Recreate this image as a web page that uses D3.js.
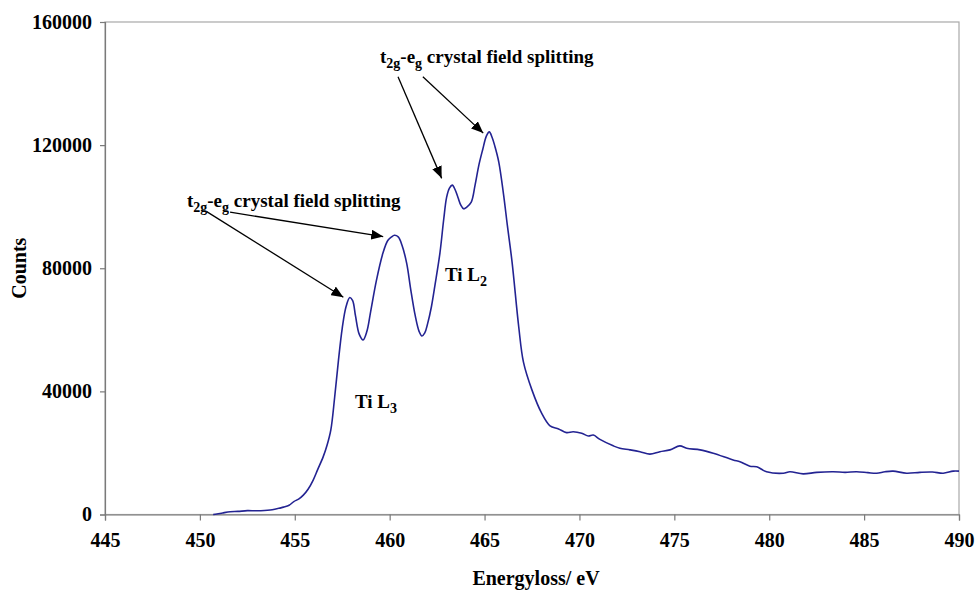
<!DOCTYPE html>
<html>
<head>
<meta charset="utf-8">
<script src="https://cdn.jsdelivr.net/npm/d3@7"></script>
<style>
  html, body { margin: 0; padding: 0; background: #fff; }
  svg { display: block; }
  text { font-family: "Liberation Serif", "Times New Roman", serif; font-weight: bold; fill: #000; }
</style>
</head>
<body>
<svg id="chart" width="976" height="590"></svg>
<script>
// Ti L2,3 edge EELS spectrum
const energy = [450.7, 450.9, 451.2, 451.6, 452.0, 452.5, 453.0, 453.7, 454.0, 454.4,
  454.7, 454.95, 455.2, 455.45, 455.7, 455.97, 456.2, 456.5, 456.7, 456.9,
  457.1, 457.3, 457.5, 457.7, 457.9, 458.05, 458.2, 458.4, 458.6, 458.8,
  459.0, 459.3, 459.65, 459.9, 460.1, 460.25, 460.45, 460.65, 460.9, 461.1, 461.35,
  461.55, 461.7, 461.85, 462.0, 462.2, 462.4, 462.65, 462.85, 463.0, 463.15,
  463.3, 463.45, 463.6, 463.75, 463.9, 464.05, 464.3, 464.5, 464.7, 464.9,
  465.1, 465.25, 465.4, 465.55, 465.75, 466.0, 466.2, 466.45, 466.8, 467.05,
  467.5, 468.0, 468.45, 468.9, 469.32, 469.67, 470.12, 470.47, 470.73, 471.08,
  471.78, 472.13, 472.66, 473.19, 473.71, 474.24, 474.77, 475.29, 475.65, 476.36,
  477.05, 478.1, 478.46, 478.98, 479.34, 479.86, 480.74, 481.09, 481.79, 482.5,
  483.37, 484.0, 484.6, 485.2, 485.66, 486.1, 486.53, 487.24, 487.94, 488.6,
  489.17, 489.69, 490.0];
const counts = [0, 150, 500, 900, 1000, 1250, 1200, 1450, 1800, 2400,
  3000, 4200, 5000, 6300, 8200, 11200, 14500, 18800, 22500, 27500,
  38000, 50000, 60500, 67500, 70500, 69500, 64500, 58500, 56700, 59500,
  66000, 76000, 85000, 89000, 90200, 90700, 90200, 87500, 81500, 73500, 64500,
  59500, 58000, 59000, 62000, 67500, 75000, 85000, 96000, 103000, 106000,
  107000, 105500, 103000, 100500, 99300, 99800, 101500, 107000, 113500, 118500,
  123000, 124300, 122500, 119500, 114500, 104000, 94000, 82000, 61000, 49500,
  40400, 33000, 28800, 27800, 26600, 26900, 26400, 25500, 25800, 24400,
  22300, 21500, 21000, 20400, 19600, 20400, 21000, 22300, 21500, 21000,
  19900, 17700, 17150, 15700, 15500, 13900, 13400, 13900, 13200, 13700,
  13900, 13700, 13900, 13600, 13400, 13900, 14100, 13400, 13700, 13800,
  13400, 14100, 14100];

const xTicks = [445, 450, 455, 460, 465, 470, 475, 480, 485, 490];
const yTicks = [0, 40000, 80000, 120000, 160000];

// annotation arrows: [tailEnergy, tailCounts, tipEnergy, tipCounts]
const arrowsL3 = [[450.36, 98400, 457.56, 70600], [451.59, 98200, 459.66, 90300]];
const arrowsL2 = [[460.44, 142200, 462.74, 109200], [461.75, 142200, 464.93, 123900]];
const splitLabels = [[449.32, 100000], [459.49, 146700]];
const edgeLabels = [{ e: 458.17, c: 34600, sub: "3" }, { e: 462.91, c: 75900, sub: "2" }];

const svg = d3.select("#chart");
const plotL = 105, plotR = 959, plotT = 22, plotB = 514.5;

const x = d3.scaleLinear().domain([445, 490]).range([plotL, plotR]);
const y = d3.scaleLinear().domain([0, 160000]).range([plotB, plotT]);

// plot area frame
svg.append("rect")
  .attr("x", plotL).attr("y", plotT)
  .attr("width", plotR - plotL).attr("height", plotB - plotT)
  .attr("fill", "none").attr("stroke", "#a8a8a8").attr("stroke-width", 1.2);

// axes
const gx = svg.append("g").attr("transform", `translate(0,${plotB})`)
  .call(d3.axisBottom(x).tickValues(xTicks).tickSize(6).tickPadding(12).tickFormat(d3.format("d")));
const gy = svg.append("g").attr("transform", `translate(${plotL},0)`)
  .call(d3.axisLeft(y).tickValues(yTicks).tickSize(5).tickPadding(8).tickFormat(d3.format("d")));
[gx, gy].forEach(g => {
  g.select(".domain").attr("stroke", "#7a7a7a").attr("stroke-width", 1.2);
  g.selectAll(".tick line").attr("stroke", "#7a7a7a").attr("stroke-width", 1.2);
  g.selectAll(".tick text")
    .style("font-family", '"Liberation Serif", serif')
    .style("font-weight", "bold").style("font-size", "20px").attr("fill", "#000");
});

// axis titles
svg.append("text").attr("x", (plotL + plotR) / 2 + 4).attr("y", 585)
  .attr("text-anchor", "middle").style("font-size", "20px").text("Energyloss/ eV");
svg.append("text").attr("transform", `translate(26,${(plotT + plotB) / 2}) rotate(-90)`)
  .attr("text-anchor", "middle").style("font-size", "20px").text("Counts");

// spectrum
const pts = energy.map((e, i) => [e, counts[i]]);
svg.append("path").datum(pts)
  .attr("fill", "none").attr("stroke", "#232392").attr("stroke-width", 1.6)
  .attr("d", d3.line().x(d => x(d[0])).y(d => y(d[1])).curve(d3.curveCatmullRom.alpha(0.5)));

// arrowhead marker
svg.append("defs").append("marker")
  .attr("id", "head").attr("markerUnits", "userSpaceOnUse")
  .attr("viewBox", "0 0 12 10").attr("refX", 12).attr("refY", 5)
  .attr("markerWidth", 12).attr("markerHeight", 10).attr("orient", "auto")
  .append("path").attr("d", "M0,0 L12,5 L0,10 Z").attr("fill", "#000");

svg.selectAll("line.arrow").data(arrowsL3.concat(arrowsL2)).enter()
  .append("line").attr("class", "arrow")
  .attr("x1", d => x(d[0])).attr("y1", d => y(d[1]))
  .attr("x2", d => x(d[2])).attr("y2", d => y(d[3]))
  .attr("stroke", "#000").attr("stroke-width", 1.3)
  .attr("marker-end", "url(#head)");

// t2g-eg labels
splitLabels.forEach(([e, c]) => {
  const t = svg.append("text").attr("x", x(e)).attr("y", y(c)).style("font-size", "19px");
  t.append("tspan").text("t");
  t.append("tspan").attr("dy", 5).style("font-size", "14px").text("2g");
  t.append("tspan").attr("dy", -5).text("-e");
  t.append("tspan").attr("dy", 5).style("font-size", "14px").text("g");
  t.append("tspan").attr("dy", -5).text(" crystal field splitting");
});

// Ti L3 / Ti L2 labels
edgeLabels.forEach(d => {
  const t = svg.append("text").attr("x", x(d.e)).attr("y", y(d.c)).style("font-size", "19px");
  t.append("tspan").text("Ti L");
  t.append("tspan").attr("dy", 5).style("font-size", "14px").text(d.sub);
});
</script>
</body>
</html>
